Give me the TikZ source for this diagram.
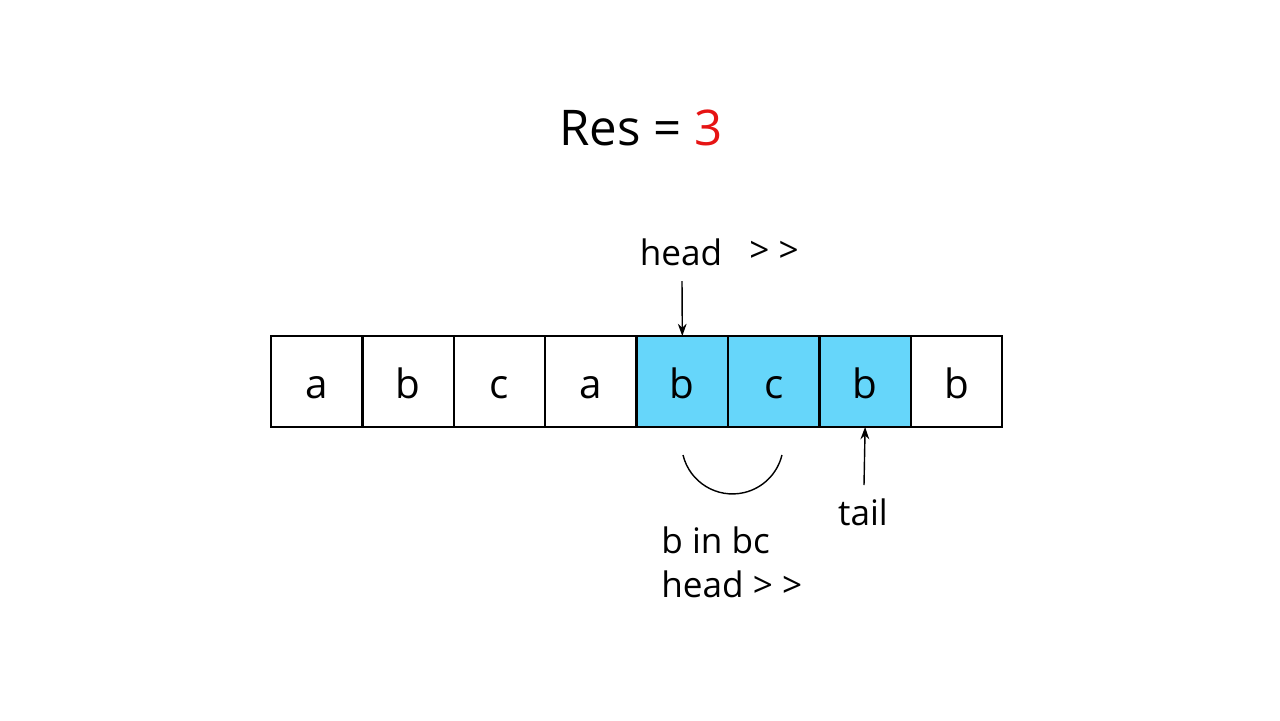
\documentclass[tikz,border=0pt]{standalone}
\usepackage{fontspec}
\setmainfont{Open Sans}
\usetikzlibrary{arrows.meta,positioning}
\definecolor{winblue}{RGB}{102,214,250}
\definecolor{resred}{RGB}{230,20,20}

\begin{document}
\begin{tikzpicture}[x=0.02cm,y=-0.02cm,
  cell/.style={draw,line width=1.1pt,minimum size=1.82cm,inner sep=0pt,outer sep=0pt,
    font=\fontsize{23}{27}\selectfont},
  lbl/.style={font=\fontsize{20}{24}\selectfont,inner sep=0pt},
  ptr/.style={-{Stealth[length=7pt,width=5pt]},line width=0.8pt}]
\useasboundingbox (0,0) rectangle (1280,720);
% Title
\node[font=\fontsize{28}{34}\selectfont] (res) at (641,128) {Res = \textcolor{resred}{3}};
% Parameters
\def\w{91.4} % cell width in px

% Row of cells, the window is blue
\foreach \ch/\fc [count=\i from 0] in {a/white,b/white,c/white,a/white,b/winblue,c/winblue,b/winblue,b/white} {
  \node[cell,fill=\fc] (c\i) at ({316.7+\i*\w},381.5) {};
  \node[anchor=base,font=\fontsize{23}{27}\selectfont,inner sep=0pt] (t\i) at ({316.7+\i*\w},398) {\ch};
}

% head pointer
\node[lbl] (head) at (681,252) {head};
\node[lbl] (headshift) at (774,252) {> >};
\coordinate (headfoot) at (682,281);
\draw[ptr] (headfoot) -- (c4.north);

% tail pointer
\node[lbl] (tail) at (863,512) {tail};
\coordinate (tailfoot) at (864,485);
\draw[ptr] (tailfoot) -- (c6.south);

% Arc under b c
\draw[line width=0.8pt] (683,455) arc[start angle=166.4, end angle=13.6, radius=50.9];

% Note
\node[lbl,anchor=west] (note1) at (661,540) {b in bc};
\node[lbl,anchor=west] (note2) at (661,584) {head > >};
\end{tikzpicture}
\end{document}
